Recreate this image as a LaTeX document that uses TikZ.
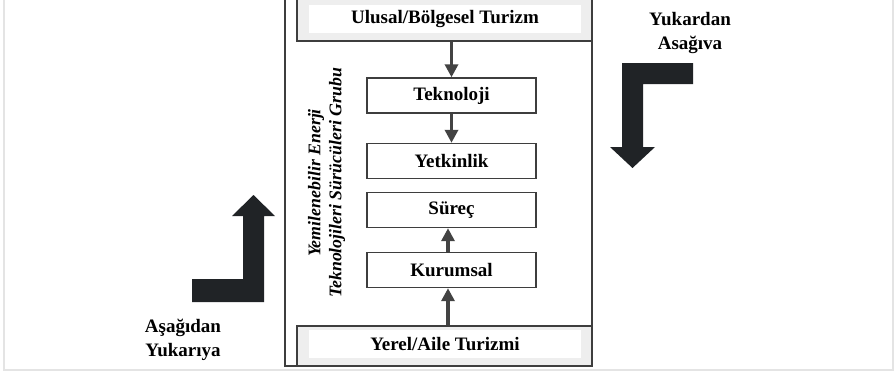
\documentclass[tikz,border=0pt]{standalone}
\usepackage{fontspec}
\setmainfont{Liberation Serif}
\usetikzlibrary{arrows.meta}
\definecolor{boxline}{HTML}{3E3E3E}
\definecolor{bandgray}{HTML}{EEEEEE}
\definecolor{framegray}{HTML}{E4E4E4}
\definecolor{bigarrow}{HTML}{202326}
\definecolor{conn}{HTML}{434343}
\tikzset{
  lbl/.style={font=\fontsize{19}{21}\selectfont\bfseries, text=black},
  stagebox/.style={draw=boxline, line width=1.4pt, fill=white, minimum width=169pt, minimum height=35pt, inner sep=0pt, lbl},
  band/.style={draw=boxline, line width=1.6pt, fill=bandgray, minimum width=295pt, inner sep=0pt},
  bandtext/.style={fill=white, minimum width=272pt, minimum height=28pt, inner sep=0pt, lbl},
  connector/.style={draw=conn, line width=3.5pt, -{Triangle[width=13pt,length=13pt]}},
  bigarr/.style={fill=bigarrow, draw=none},
  sidelbl/.style={lbl, align=center, inner sep=0pt}
}
\begin{document}
\begin{tikzpicture}[x=1pt,y=-1pt]
\useasboundingbox (0,0) rectangle (896,373);
% light frame
\draw[framegray, line width=2.5pt] (4,-5) -- (4,370) -- (893,370) -- (893,-5);
% outer group box
\draw[boxline, line width=1.6pt, fill=white] (285,-10) rectangle (592,366);
% top band
\node[band, minimum height=51pt] (ulusal) at (444.5,15.5) {};
\node[bandtext] (ulusaltxt) at (445,19) {Ulusal/Bölgesel Turizm};
% bottom band
\node[band, minimum height=40pt] (yerel) at (444.5,346) {};
\node[bandtext] (yereltxt) at (445,344) {Yerel/Aile Turizmi};
% outer box edges over bands
\draw[boxline, line width=1.6pt] (285,-10) rectangle (592,366);
% stage boxes
\node[stagebox] (tek) at (451.5,95.5) {Teknoloji};
\node[stagebox] (yet) at (451.5,161) {Yetkinlik};
\node[stagebox] (sur) at (451.5,210) {Süreç};
\node[stagebox] (kur) at (451.5,270) {Kurumsal};
% connectors
\draw[connector] (ulusal.south -| tek.north) -- (tek.north);
\draw[connector] (tek.south) -- (yet.north);
\draw[connector] ([xshift=-3.5pt]yerel.north -| kur.south) -- ([xshift=-3.5pt]kur.south);
\draw[connector] ([xshift=-3.5pt]kur.north) -- ([xshift=-3.5pt]sur.south);
% vertical group label
\node[rotate=90, align=center, inner sep=0pt, font=\fontsize{17.8}{21}\selectfont\bfseries\itshape] (grp) at (326.5,183)
  {Yemilenebilir Enerji\\Teknolojileri Sürücüleri Grubu};
% big L arrows
\fill[bigarr] (693,63) -- (622,63) -- (622,147) -- (610,147) -- (632.5,168) -- (655,147) -- (643,147) -- (643,84) -- (693,84) -- cycle;
\fill[bigarr] (192,279) -- (243,279) -- (243,216) -- (232,216) -- (253.5,195) -- (275,216) -- (264,216) -- (264,302) -- (192,302) -- cycle;
% side labels
\node[sidelbl] (topdown) at (690,33) {Yukardan\\[3pt]Asağıva};
\node[sidelbl] (bottomup) at (183,340) {Aşağıdan\\[3pt]Yukarıya};
\end{tikzpicture}
\end{document}
